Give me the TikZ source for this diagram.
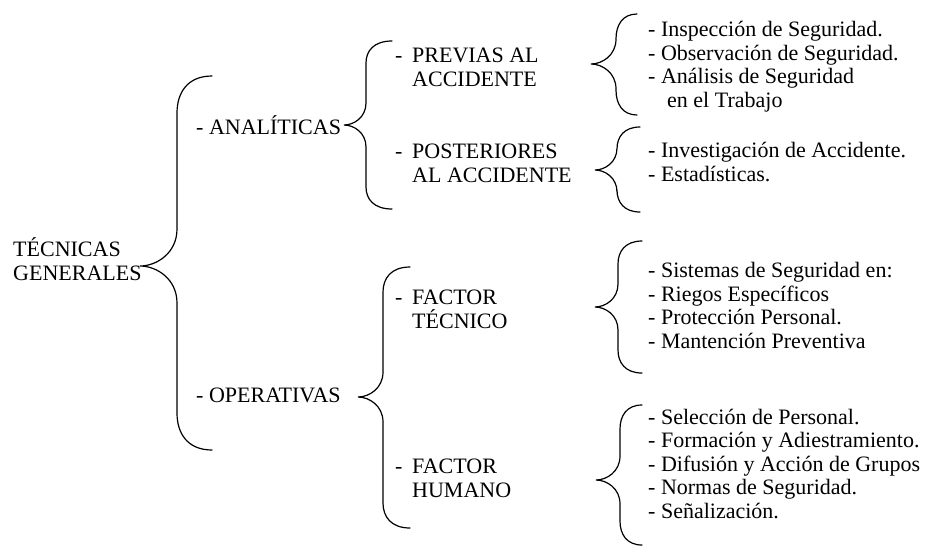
\documentclass[tikz,border=0pt]{standalone}
\usepackage{fontspec}
\setmainfont{Liberation Serif}
\usetikzlibrary{calc}

% tip, top end, bottom end, depth of the curl
\newcommand{\curly}[4]{%
  \draw[brace] let \p1=(#1), \p2=(#2), \p3=(#3) in
    (\p2) .. controls ({\x1+#4pt+0.3*(\x2-\x1-#4pt)},\y2) and ({\x1+#4pt},{\y2-0.45*#4pt}) .. ({\x1+#4pt},{\y2-#4pt})
    -- ({\x1+#4pt},{\y1+#4pt})
    .. controls ({\x1+#4pt},{\y1+0.35*#4pt}) and ({\x1+0.45*#4pt},\y1) .. (\p1)
    .. controls ({\x1+0.45*#4pt},\y1) and ({\x1+#4pt},{\y1-0.35*#4pt}) .. ({\x1+#4pt},{\y1-#4pt})
    -- ({\x1+#4pt},{\y3+#4pt})
    .. controls ({\x1+#4pt},{\y3+0.45*#4pt}) and ({\x1+#4pt+0.3*(\x3-\x1-#4pt)},\y3) .. (\p3);}
\newcommand{\guion}{\makebox[17pt][l]{-}}
\newcommand{\sangria}{\hspace*{17pt}}

\begin{document}
\begin{tikzpicture}[
    x=1pt,y=-1pt,
    txt/.style={anchor=base west,inner sep=0pt,align=left,font=\fontsize{22}{23.8}\selectfont},
    lista/.style={txt,font=\fontsize{22}{23.4}\selectfont},
    brace/.style={draw,line width=1.2pt,line cap=round}
  ]
    \useasboundingbox (0,0) rectangle (925,547);

    % nodes sit on the baseline of their last line
    \node[txt] (tec) at (13,280) {TÉCNICAS\\GENERALES};
    \node[txt] (ana) at (196,134) {- ANALÍTICAS};
    \node[txt] (ope) at (196,402) {- OPERATIVAS};

    \node[txt] (prev) at (395,86) {\guion PREVIAS AL\\\sangria ACCIDENTE};
    \node[txt] (post) at (395,182) {\guion POSTERIORES\\\sangria AL ACCIDENTE};
    \node[txt] (ftec) at (395,328) {\guion FACTOR\\\sangria TÉCNICO};
    \node[txt] (fhum) at (395,497) {\guion FACTOR\\\sangria HUMANO};

    \node[lista] (lprev) at (648,107) {- Inspección de Seguridad.\\- Observación de Seguridad.\\- Análisis de Seguridad\\\hspace*{19pt}en el Trabajo};
    \node[lista] (lpost) at (648,181) {- Investigación de Accidente.\\- Estadísticas.};
    \node[lista] (lftec) at (648,348) {- Sistemas de Seguridad en:\\- Riegos Específicos\\- Protección Personal.\\- Mantención Preventiva};
    \node[lista] (lfhum) at (648,518) {- Selección de Personal.\\- Formación y Adiestramiento.\\- Difusión y Acción de Grupos\\- Normas de Seguridad.\\- Señalización.};

    \coordinate (tec-tip) at (140,266);
    \coordinate (tec-top) at (212,76);
    \coordinate (tec-bot) at (212,450);
    \coordinate (ana-tip) at (344,125);
    \coordinate (ana-top) at (392,41);
    \coordinate (ana-bot) at (392,209);
    \coordinate (ope-tip) at (358,397);
    \coordinate (ope-top) at (410,267);
    \coordinate (ope-bot) at (410,528);
    \coordinate (prev-tip) at (591,64);
    \coordinate (prev-top) at (637,14);
    \coordinate (prev-bot) at (637,115);
    \coordinate (post-tip) at (595,170);
    \coordinate (post-top) at (640,127);
    \coordinate (post-bot) at (640,212);
    \coordinate (ftec-tip) at (595,307);
    \coordinate (ftec-top) at (642,241);
    \coordinate (ftec-bot) at (642,373);
    \coordinate (fhum-tip) at (596,480);
    \coordinate (fhum-top) at (642,405);
    \coordinate (fhum-bot) at (642,545);

    \curly{tec-tip}{tec-top}{tec-bot}{37}
    \curly{ana-tip}{ana-top}{ana-bot}{22}
    \curly{ope-tip}{ope-top}{ope-bot}{25}
    \curly{prev-tip}{prev-top}{prev-bot}{25}
    \curly{post-tip}{post-top}{post-bot}{22}
    \curly{ftec-tip}{ftec-top}{ftec-bot}{23}
    \curly{fhum-tip}{fhum-top}{fhum-bot}{24}
  \end{tikzpicture}
\end{document}
